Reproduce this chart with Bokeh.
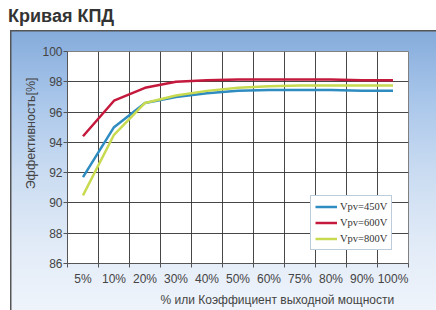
from bokeh.plotting import figure
from bokeh.layouts import column
from bokeh.models import FixedTicker, Legend, LegendItem, Range1d, Title, Div
from bokeh.embed import file_html
from bokeh.resources import INLINE

# ---- data ----
categories = ["5%", "10%", "20%", "30%", "40%", "50%", "60%", "75%", "80%", "90%", "100%"]
eff_450 = [91.7, 95.0, 96.6, 97.0, 97.25, 97.4, 97.45, 97.45, 97.45, 97.4, 97.4]
eff_600 = [94.4, 96.75, 97.6, 98.0, 98.1, 98.15, 98.15, 98.15, 98.15, 98.1, 98.1]
eff_800 = [90.5, 94.5, 96.6, 97.1, 97.4, 97.6, 97.7, 97.75, 97.75, 97.75, 97.75]
series_labels = ["Vpv=450V", "Vpv=600V", "Vpv=800V"]
y_ticks = [86, 88, 90, 92, 94, 96, 98, 100]
title_text = "Кривая КПД"
x_title = "%  или Коэффициент выходной мощности"
y_title = "Эффективность[%]"

n = len(categories)
x_centers = [i + 0.5 for i in range(n)]
x_bounds = list(range(n + 1))

FONT = "Liberation Sans"

# ---- title ----
head = Div(text=title_text, width=436, height=30, margin=(0, 0, 0, 0),
           styles={"font-family": "'Liberation Sans', Arial, sans-serif", "font-size": "18px",
                   "font-weight": "bold", "color": "#333333", "line-height": "20px",
                   "padding-left": "8px", "padding-top": "6px", "box-sizing": "border-box",
                   "white-space": "nowrap"})

p = figure(width=436, height=280, x_range=Range1d(0, n), y_range=Range1d(86, 100),
           output_backend="svg", toolbar_location=None,
           min_border_left=67, min_border_right=28, min_border_top=21, min_border_bottom=47)
p.margin = (0, 0, 0, 0)
p.background_fill_color = "white"
p.border_fill_alpha = 0
p.outline_line_color = "#808080"

# gradient panel behind the (transparent) border area, via CSS
bg = ("linear-gradient(#555555,#555555) 10px 0px / 1.5px 280px no-repeat, "
      "linear-gradient(#555555,#555555) 10px 0px / 426px 1.5px no-repeat, "
      "linear-gradient(to bottom, #84abdb 0%, #a9c6ea 25%, #c9dbf1 50%, #e0eaf7 75%, #eff4fb 100%) "
      "10px 0px / 426px 280px no-repeat, #ffffff")
p.styles = {"background": bg}

# ---- axes ----
p.xaxis.ticker = FixedTicker(ticks=x_centers, minor_ticks=x_bounds)
p.xaxis.major_label_overrides = {xc: c for xc, c in zip(x_centers, categories)}
p.xaxis.major_tick_out = 0
p.xaxis.major_tick_in = 0
p.xaxis.minor_tick_out = 4
p.xaxis.minor_tick_in = 0
p.xaxis.minor_tick_line_color = "#555555"
p.xaxis.major_label_standoff = 4

p.yaxis.ticker = FixedTicker(ticks=y_ticks, minor_ticks=[])
p.yaxis.major_tick_out = 4
p.yaxis.major_tick_in = 0
p.yaxis.major_label_standoff = 1

for ax in (p.xaxis, p.yaxis):
    ax.axis_line_color = "#555555"
    ax.major_tick_line_color = "#555555"
    ax.major_label_text_font = FONT
    ax.major_label_text_font_size = "12px"
    ax.major_label_text_color = "#444444"

xt = Title(text=x_title, align="right", offset=11, standoff=4,
           text_font=FONT, text_font_size="12px", text_font_style="normal", text_color="#444444")
p.add_layout(xt, "below")
yt = Title(text=y_title, align="right", offset=26, standoff=3,
           text_font=FONT, text_font_size="12.5px", text_font_style="normal", text_color="#444444")
p.add_layout(yt, "left")

p.xgrid.ticker = FixedTicker(ticks=x_bounds)
p.ygrid.ticker = FixedTicker(ticks=y_ticks)
for g in (p.xgrid, p.ygrid):
    g.grid_line_color = "#333333"
    g.grid_line_width = 1
    g.grid_line_alpha = 0.9

# ---- lines ----
r450 = p.line(x_centers, eff_450, line_color="#2f8cc0", line_width=2.5)
r600 = p.line(x_centers, eff_600, line_color="#c4183c", line_width=2.5)
r800 = p.line(x_centers, eff_800, line_color="#c8da50", line_width=2.5)

legend = Legend(items=[LegendItem(label=series_labels[0], renderers=[r450]),
                       LegendItem(label=series_labels[1], renderers=[r600]),
                       LegendItem(label=series_labels[2], renderers=[r800])],
                location=(243, 13), orientation="vertical")
legend.label_text_font = "Liberation Serif"
legend.label_text_font_size = "10.5px"
legend.label_text_color = "#333333"
legend.label_height = 13
legend.label_standoff = 3
legend.glyph_width = 22
legend.glyph_height = 13
legend.spacing = 3
legend.padding = 4
legend.margin = 0
legend.border_line_color = "#7a9ab8"
legend.border_line_width = 1
legend.background_fill_color = "white"
legend.background_fill_alpha = 1
p.add_layout(legend, "center")

layout = column(head, p, spacing=0)
open("out.html", "w").write(file_html(layout, INLINE))
